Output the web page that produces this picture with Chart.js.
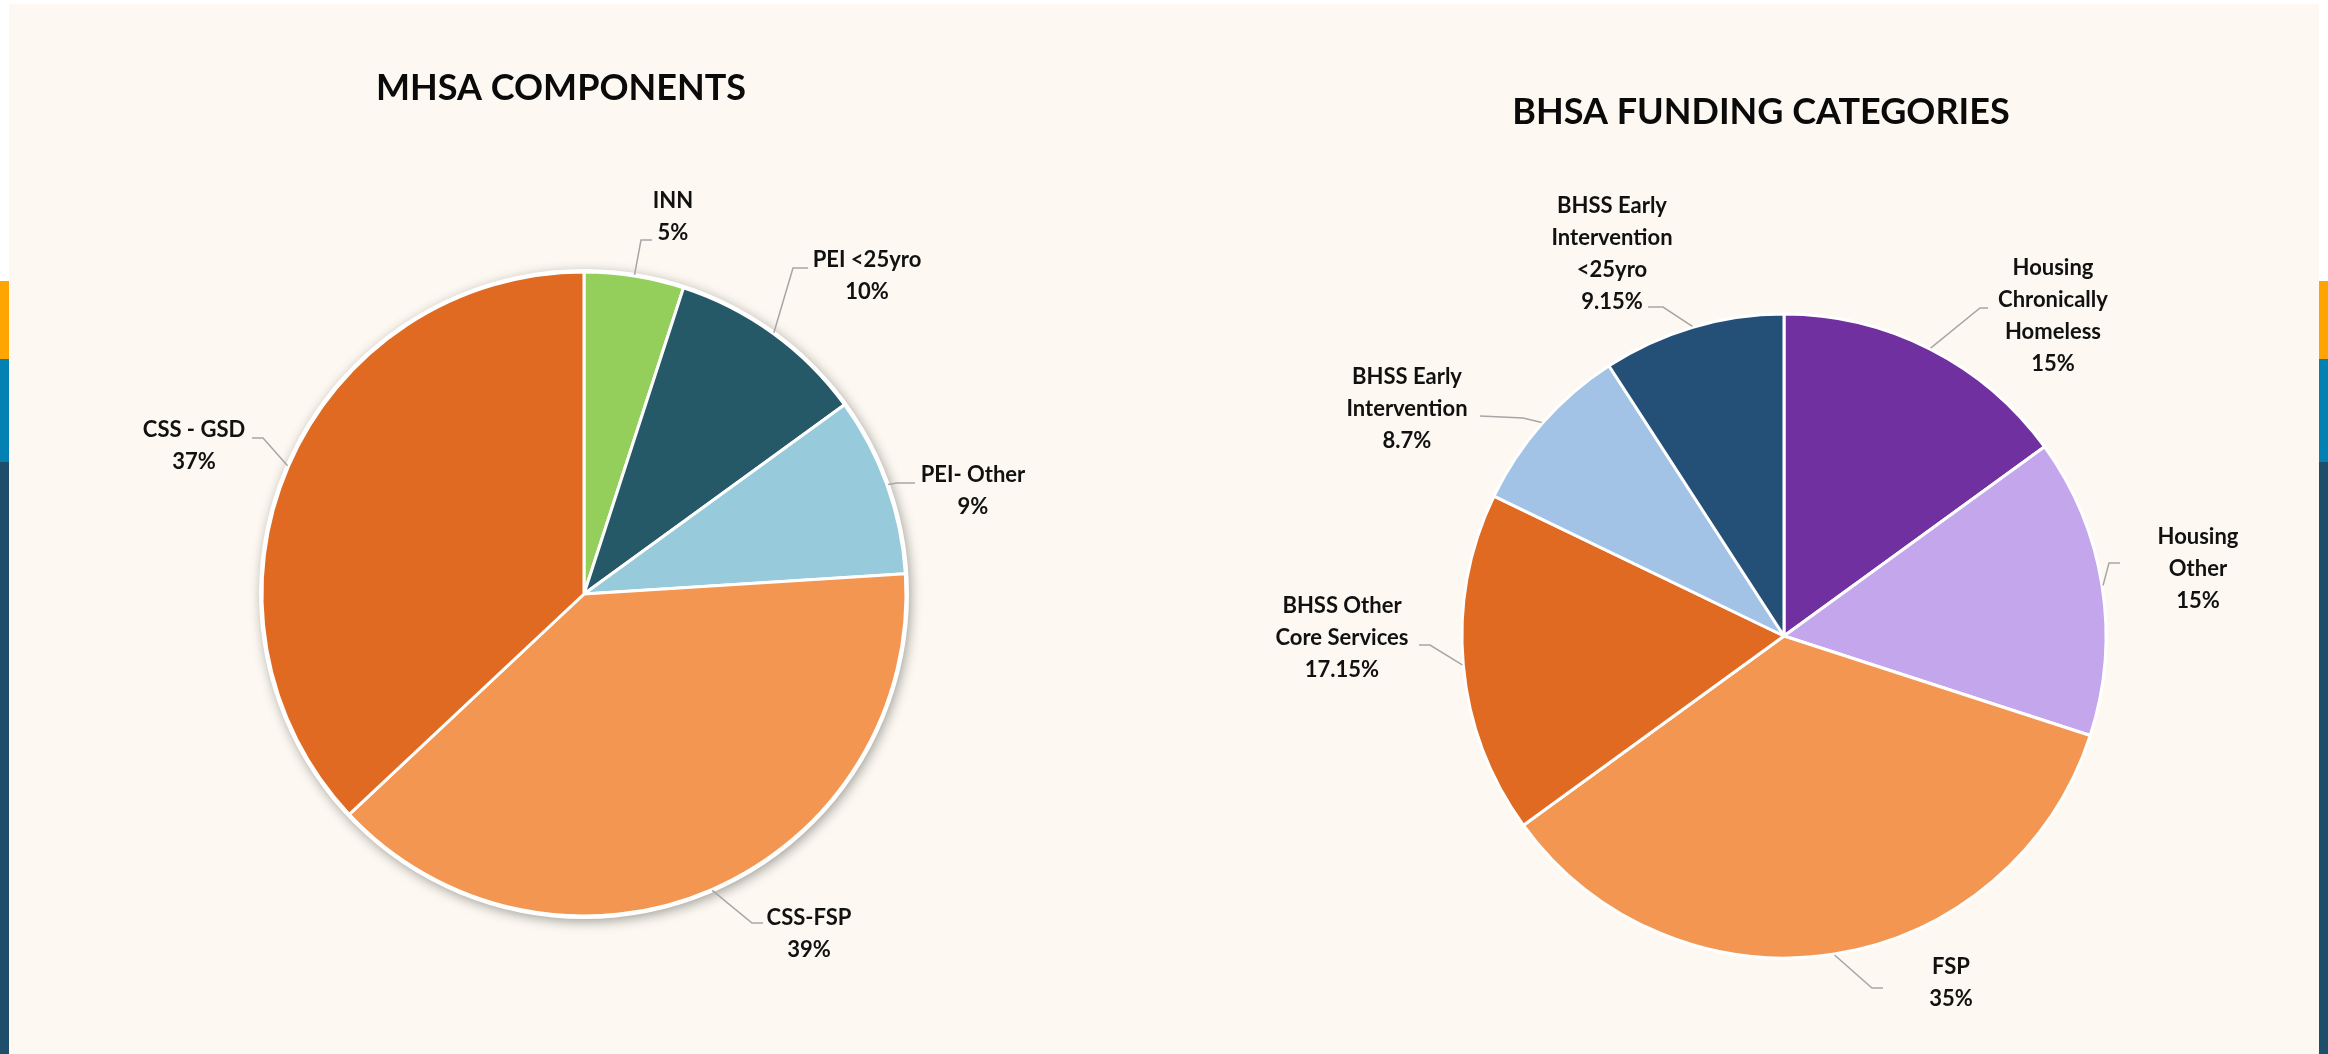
<!DOCTYPE html>
<html>
<head>
<meta charset="utf-8">
<title>MHSA / BHSA</title>
<script src="https://cdn.jsdelivr.net/npm/chart.js@4.4.1/dist/chart.umd.min.js"></script>
<style>
    html, body { margin: 0; width: 2328px; height: 1054px; overflow: hidden; background: #ffffff; }
    .panel { position: absolute; left: 9px; top: 4px; width: 2310px; height: 1050px; background: #fdf9f2; }
    .strip { position: absolute; width: 9px; }
    .strip.left { left: 0; }
    .strip.right { left: 2319px; }
    .orange { top: 281px; height: 78px; background: #ffa400; }
    .blue { top: 359px; height: 103px; background: #0381b3; }
    .navy { top: 462px; height: 592px; background: #1f4e6b; }
    .box { position: absolute; top: 0; }
    canvas { display: block; }
</style>
</head>
<body>
<div class="panel"></div>
<div class="strip left orange"></div><div class="strip left blue"></div><div class="strip left navy"></div>
<div class="strip right orange"></div><div class="strip right blue"></div><div class="strip right navy"></div>

<div class="box" style="left:0px"><canvas id="mhsa" width="1168" height="1188"></canvas></div>
<div class="box" style="left:1240px"><canvas id="bhsa" width="1088" height="1272"></canvas></div>

<script>
// --- data ---
const mhsaTitle = 'MHSA COMPONENTS';
const mhsaLabels = [['INN'], ['PEI <25yro'], ['PEI- Other'], ['CSS-FSP'], ['CSS - GSD']];
const mhsaValues = [5, 10, 9, 39, 37];

const bhsaTitle = 'BHSA FUNDING CATEGORIES';
const bhsaLabels = [
    ['Housing', 'Chronically', 'Homeless'],
    ['Housing', 'Other'],
    ['FSP'],
    ['BHSS Other', 'Core Services'],
    ['BHSS Early', 'Intervention'],
    ['BHSS Early', 'Intervention', '<25yro']
];
const bhsaValues = [15, 15, 35, 17.15, 8.7, 9.15];

// --- styles ---
const mhsaColors = ['#95cf5b', '#255968', '#97cbdc', '#f39651', '#e06a22'];
const bhsaColors = ['#7030a0', '#c4a6ed', '#f39651', '#e06a22', '#a2c3e5', '#244f76'];

// label placement, px relative to the pie centre: text block centre, leader elbow, leader end
const mhsaLayout = [
    { text: [89, -377], elbow: [57, -354], end: [68, -354] },
    { text: [283, -318], elbow: [209, -326], end: [224, -326] },
    { text: [389, -103], elbow: [313, -111], end: [331, -111] },
    { text: [225, 340], elbow: [168, 329], end: [179, 329] },
    { text: [-390, -148], elbow: [-321, -156], end: [-332, -156] }
];
const bhsaLayout = [
    { text: [269, -320], elbow: [196, -328], end: [204, -328] },
    { text: [414, -67], elbow: [325, -73], end: [336, -73] },
    { text: [167, 347], elbow: [88, 352], end: [99, 352] },
    { text: [-442, 2], elbow: [-354, 9], end: [-365, 9] },
    { text: [-377, -227], elbow: [-261, -218], end: [-304, -220] },
    { text: [-172, -382], elbow: [-121, -329], end: [-136, -329] }
];

const FONT = 'Lato, "Open Sans", sans-serif';

/**
 * Shadow under the pie, leader lines, outside labels and title
 */
const pieDecor = {
    id: 'pieDecor',
    beforeDatasetsDraw: function(chart, args, opts) {
        if (!opts.shadow) return;
        const ctx = chart.ctx;
        const p = chart.getDatasetMeta(0).data[0].getProps(['x', 'y', 'outerRadius'], true);
        ctx.save();
        ctx.shadowColor = 'rgba(0, 0, 0, 0.35)';
        ctx.shadowBlur = 12;
        ctx.shadowOffsetX = 2;
        ctx.shadowOffsetY = 3;
        ctx.fillStyle = '#ffffff';
        ctx.beginPath();
        ctx.arc(p.x, p.y, p.outerRadius + 3, 0, Math.PI * 2);
        ctx.fill();
        ctx.restore();
    },
    afterDraw: function(chart, args, opts) {
        const ctx = chart.ctx;
        const meta = chart.getDatasetMeta(0);
        const values = chart.data.datasets[0].data;
        const c = meta.data[0].getProps(['x', 'y'], true);

        ctx.save();
        ctx.textAlign = 'center';
        ctx.textBaseline = 'middle';
        ctx.fillStyle = '#0a0a0a';
        ctx.font = 'bold 36px ' + FONT;
        ctx.fillText(opts.title, c.x + opts.titleAt[0], c.y + opts.titleAt[1]);

        meta.data.forEach((arc, i) => {
            const p = arc.getProps(['startAngle', 'endAngle', 'outerRadius'], true);
            const mid = (p.startAngle + p.endAngle) / 2;
            const r = p.outerRadius + 1;
            const lay = opts.layout[i];

            ctx.strokeStyle = '#a6a6a6';
            ctx.lineWidth = 1.5;
            ctx.beginPath();
            ctx.moveTo(c.x + Math.cos(mid) * r, c.y + Math.sin(mid) * r);
            ctx.lineTo(c.x + lay.elbow[0], c.y + lay.elbow[1]);
            ctx.lineTo(c.x + lay.end[0], c.y + lay.end[1]);
            ctx.stroke();

            const lines = [].concat(chart.data.labels[i], values[i] + '%');
            const top = c.y + lay.text[1] - (lines.length - 1) * 16;
            ctx.fillStyle = '#111111';
            ctx.font = 'bold 22px ' + FONT;
            lines.forEach((t, k) => ctx.fillText(t, c.x + lay.text[0], top + k * 32));
        });
        ctx.restore();
    }
};

function makePie(id, labels, values, colors, decor) {
    return new Chart(document.getElementById(id), {
        type: 'pie',
        data: {
            labels: labels,
            datasets: [{
                data: values,
                backgroundColor: colors,
                borderColor: '#ffffff',
                borderWidth: 3
            }]
        },
        options: {
            responsive: false,
            animation: false,
            radius: 322,
            layout: { padding: 0 },
            plugins: {
                legend: { display: false },
                tooltip: { enabled: false },
                pieDecor: decor
            }
        },
        plugins: [pieDecor]
    });
}

makePie('mhsa', mhsaLabels, mhsaValues, mhsaColors,
    { title: mhsaTitle, titleAt: [-23, -506], layout: mhsaLayout, shadow: true });
makePie('bhsa', bhsaLabels, bhsaValues, bhsaColors,
    { title: bhsaTitle, titleAt: [-23, -524], layout: bhsaLayout, shadow: false });
</script>
</body>
</html>
